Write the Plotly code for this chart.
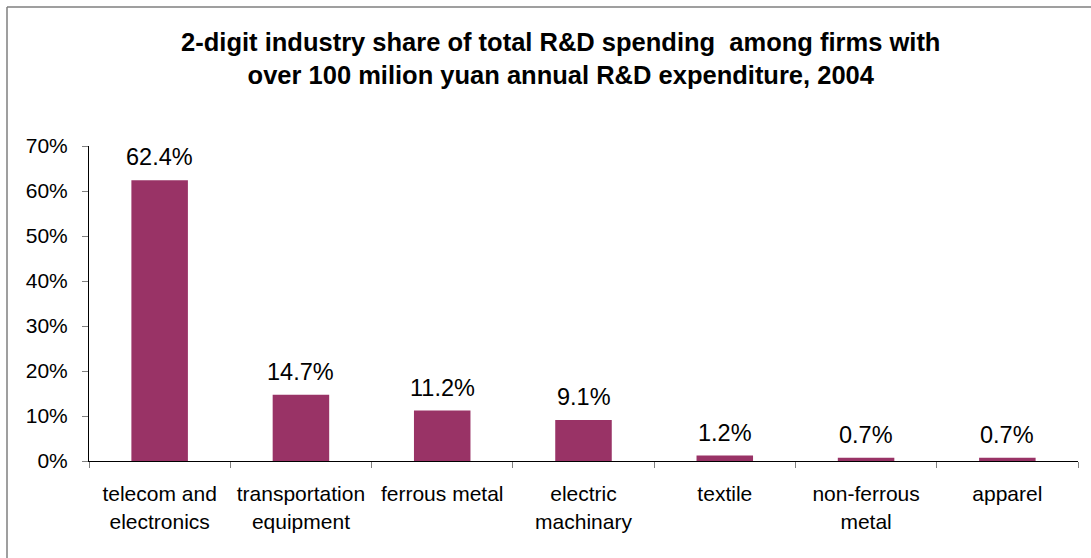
import plotly.graph_objects as go

industries = [
    "telecom and<br>electronics",
    "transportation<br>equipment",
    "ferrous metal",
    "electric<br>machinary",
    "textile",
    "non-ferrous<br>metal",
    "apparel",
]
shares = [0.624, 0.147, 0.112, 0.091, 0.012, 0.007, 0.007]
y_ticks = [0, 0.1, 0.2, 0.3, 0.4, 0.5, 0.6, 0.7]

FONT = "Liberation Sans, Arial, sans-serif"

fig = go.Figure(
    go.Bar(
        x=industries,
        y=shares,
        width=0.4,
        marker=dict(color="#993366", line=dict(width=0)),
        hoverinfo="x+y",
    )
)

# value labels above each bar
for cat, val in zip(industries, shares):
    fig.add_annotation(
        x=cat, y=val, xref="x", yref="y",
        text=f"{val*100:.1f}%",
        showarrow=False,
        yanchor="middle",
        yshift=23,
        font=dict(family=FONT, size=23.5, color="#000000"),
    )

fig.update_layout(
    width=1091,
    height=558,
    margin=dict(l=89, r=13, t=146, b=97),
    paper_bgcolor="white",
    plot_bgcolor="white",
    showlegend=False,
    bargap=0.6,
    title=dict(
        text="2-digit industry share of total R&D spending  among firms with<br>over 100 milion yuan annual R&D expenditure, 2004",
        x=0.514,
        xanchor="center",
        y=0.908,
        yanchor="top",
        font=dict(family=FONT, size=25.5, color="#000000", weight="bold"),
    ),
    font=dict(family=FONT, size=20, color="#000000"),
)

fig.update_xaxes(
    type="category",
    showline=True,
    linecolor="#000000",
    linewidth=1,
    ticks="outside",
    tickson="boundaries",
    ticklen=6,
    tickcolor="#808080",
    tickfont=dict(size=21, family=FONT),
    ticklabelstandoff=14,
    showgrid=False,
)

fig.update_yaxes(
    range=[0, 0.7],
    tickvals=y_ticks,
    tickformat=".0%",
    showline=True,
    linecolor="#000000",
    linewidth=1,
    ticks="outside",
    ticklen=6,
    tickcolor="#808080",
    tickfont=dict(size=21, family=FONT),
    ticklabelstandoff=10,
    showgrid=False,
    zeroline=False,
)

# chart-area frame on top and left
fig.add_shape(type="line", xref="paper", yref="paper",
              x0=(7 - 89) / 989, x1=(1091 - 89) / 989,
              y0=(461 - 7) / 315, y1=(461 - 7) / 315,
              line=dict(color="#7f7f7f", width=1.5))
fig.add_shape(type="line", xref="paper", yref="paper",
              x0=(7 - 89) / 989, x1=(7 - 89) / 989,
              y0=(461 - 7) / 315, y1=(461 - 558) / 315,
              line=dict(color="#7f7f7f", width=1.5))

fig.write_html("out.html")
